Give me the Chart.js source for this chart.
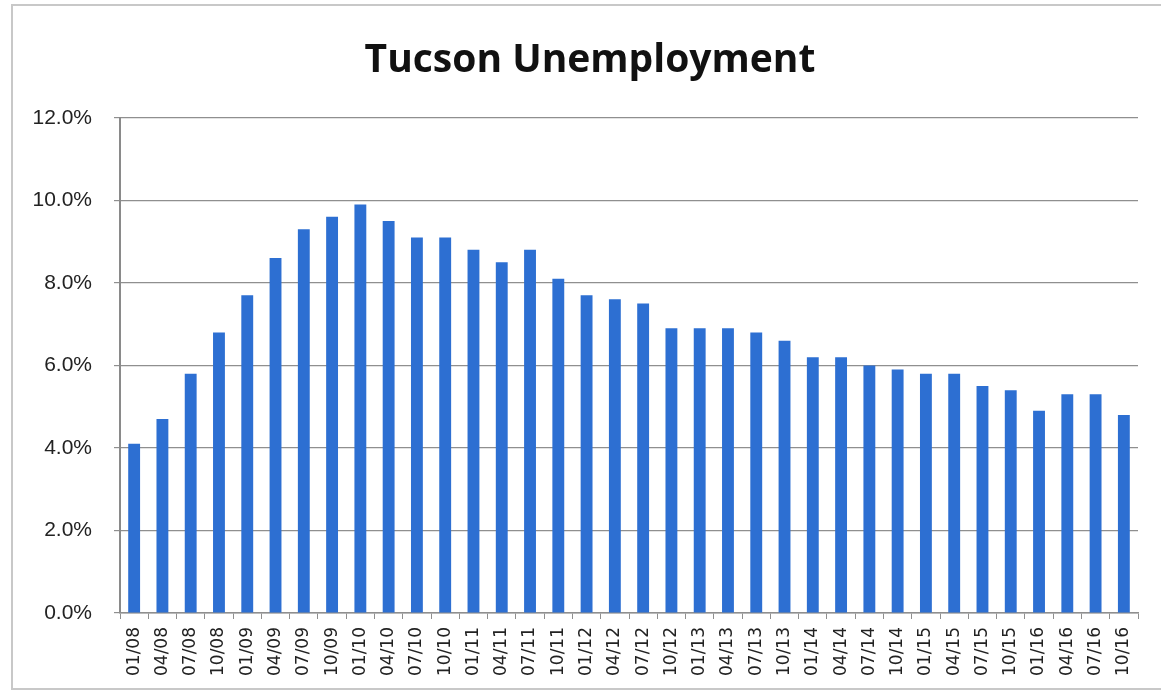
<!DOCTYPE html>
<html>
<head>
<meta charset="utf-8">
<script src="https://cdn.jsdelivr.net/npm/chart.js@4"></script>
<style>
  html, body { margin: 0; padding: 0; background: #fff; }
  #wrap { width: 1161px; height: 693px; position: relative; }
</style>
</head>
<body>
<div id="wrap"><canvas id="ctx"></canvas></div>
<script>
const quarters = ['01/08','04/08','07/08','10/08','01/09','04/09','07/09','10/09','01/10','04/10','07/10','10/10',
                  '01/11','04/11','07/11','10/11','01/12','04/12','07/12','10/12','01/13','04/13','07/13','10/13',
                  '01/14','04/14','07/14','10/14','01/15','04/15','07/15','10/15','01/16','04/16','07/16','10/16'];
// unemployment rate, percent
const rates = [4.1, 4.7, 5.8, 6.8, 7.7, 8.6, 9.3, 9.6, 9.9, 9.5, 9.1, 9.1,
               8.8, 8.5, 8.8, 8.1, 7.7, 7.6, 7.5, 6.9, 6.9, 6.9, 6.8, 6.6,
               6.2, 6.2, 6.0, 5.9, 5.8, 5.8, 5.5, 5.4, 4.9, 5.3, 5.3, 4.8];
const yTicks = [0, 2, 4, 6, 8, 10, 12];

// light frame around the whole chart, and title centred on the frame
const framePlugin = {
  id: 'frame',
  afterLayout(chart) {
    if (chart.titleBlock) {
      chart.titleBlock.left = 42;
      chart.titleBlock.right = 1138;
    }
  },
  beforeDraw(chart) {
    const c = chart.ctx;
    c.save();
    c.strokeStyle = '#c8c8c8';
    c.lineWidth = 2;
    c.strokeRect(12, 5, 1170, 684);
    c.restore();
  }
};

new Chart(document.getElementById('ctx'), {
  type: 'bar',
  data: {
    labels: quarters,
    datasets: [{
      data: rates,
      backgroundColor: '#2d6fd2',
      borderWidth: 0,
      barPercentage: 0.42,
      categoryPercentage: 1.0
    }]
  },
  options: {
    responsive: true,
    maintainAspectRatio: false,
    animation: false,
    layout: { padding: { left: 0, right: 23, top: 29, bottom: 0 } },
    plugins: {
      legend: { display: false },
      tooltip: { enabled: false },
      title: {
        display: true,
        text: 'Tucson Unemployment',
        color: '#111',
        font: { family: 'Open Sans', size: 39, weight: 'bold' },
        padding: { top: 8, bottom: 34 }
      }
    },
    scales: {
      y: {
        min: 0,
        max: 12,
        afterFit: s => { s.width = 120; },
        afterBuildTicks: s => { s.ticks = yTicks.map(v => ({ value: v })); },
        border: { display: true, color: '#8a8a8a', width: 2 },
        grid: { color: '#8f8f8f', lineWidth: 1.2, tickLength: 6, drawTicks: true },
        ticks: {
          color: '#222',
          padding: 22,
          font: { family: 'Liberation Sans', size: 21 },
          callback: v => v.toFixed(1) + '%'
        }
      },
      x: {
        afterFit: s => { s.height = 80; },
        border: { display: true, color: '#8f8f8f', width: 1.5 },
        grid: { offset: true, drawOnChartArea: false, color: '#8f8f8f', tickLength: 6 },
        ticks: {
          color: '#222',
          minRotation: 90,
          maxRotation: 90,
          autoSkip: false,
          padding: 8,
          font: { family: 'DejaVu Sans', size: 17 }
        }
      }
    }
  },
  plugins: [framePlugin]
});
</script>
</body>
</html>
